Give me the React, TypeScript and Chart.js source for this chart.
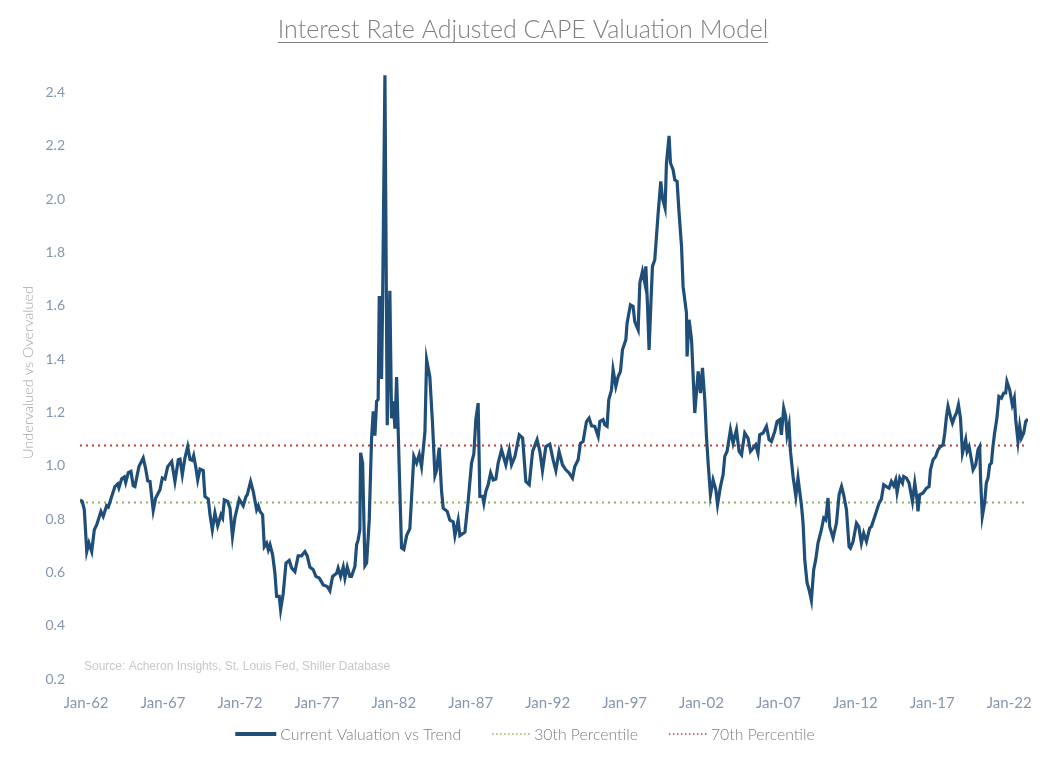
import React, { useEffect, useRef } from 'react';
import { Chart, registerables } from 'chart.js';

Chart.register(...registerables);

// ---- Data (decimal year, valuation ratio) ----
const dates: number[] = [
  1961.60, 1961.75, 1961.88, 1962.04, 1962.18, 1962.36, 1962.53, 1962.69, 1962.96, 1963.11,
  1963.33, 1963.44, 1963.66, 1963.87, 1964.05, 1964.13, 1964.31, 1964.48, 1964.57, 1964.74,
  1964.91, 1965.06, 1965.17, 1965.43, 1965.71, 1965.87, 1966.00, 1966.15, 1966.36, 1966.52,
  1966.80, 1966.95, 1967.12, 1967.30, 1967.56, 1967.77, 1967.99, 1968.10, 1968.25, 1968.42,
  1968.60, 1968.75, 1968.90, 1968.99, 1969.12, 1969.25, 1969.40, 1969.61, 1969.72, 1969.94,
  1970.05, 1970.20, 1970.37, 1970.55, 1970.76, 1970.87, 1970.98, 1971.20, 1971.35, 1971.51,
  1971.67, 1971.95, 1972.21, 1972.39, 1972.47, 1972.69, 1972.86, 1973.08, 1973.19, 1973.30,
  1973.47, 1973.58, 1973.73, 1973.84, 1973.95, 1974.12, 1974.27, 1974.38, 1974.55, 1974.64,
  1974.81, 1974.99, 1975.20, 1975.36, 1975.57, 1975.78, 1976.00, 1976.22, 1976.37, 1976.54,
  1976.76, 1976.93, 1977.15, 1977.41, 1977.67, 1977.84, 1978.02, 1978.28, 1978.38, 1978.54,
  1978.71, 1978.82, 1978.97, 1979.14, 1979.25, 1979.47, 1979.58, 1979.68, 1979.79, 1979.84,
  1979.97, 1980.12, 1980.23, 1980.40, 1980.55, 1980.66, 1980.77, 1980.88, 1980.98, 1981.05,
  1981.14, 1981.20, 1981.27, 1981.42, 1981.57, 1981.74, 1981.85, 1981.96, 1982.07, 1982.18,
  1982.28, 1982.39, 1982.50, 1982.65, 1982.83, 1983.04, 1983.30, 1983.48, 1983.65, 1983.80,
  1984.02, 1984.13, 1984.34, 1984.52, 1984.67, 1984.78, 1984.95, 1985.10, 1985.21, 1985.47,
  1985.64, 1985.86, 1985.97, 1986.18, 1986.29, 1986.62, 1986.83, 1987.05, 1987.20, 1987.33,
  1987.48, 1987.59, 1987.77, 1987.85, 1987.98, 1988.13, 1988.29, 1988.46, 1988.63, 1988.78,
  1989.00, 1989.28, 1989.50, 1989.65, 1989.87, 1990.15, 1990.37, 1990.58, 1990.80, 1991.02,
  1991.31, 1991.49, 1991.66, 1991.88, 1992.14, 1992.35, 1992.53, 1992.74, 1992.96, 1993.18,
  1993.39, 1993.61, 1993.76, 1993.98, 1994.13, 1994.30, 1994.52, 1994.69, 1994.85, 1995.06,
  1995.28, 1995.39, 1995.60, 1995.71, 1995.86, 1995.97, 1996.15, 1996.25, 1996.43, 1996.58,
  1996.73, 1996.86, 1997.08, 1997.16, 1997.38, 1997.55, 1997.66, 1997.88, 1997.99, 1998.16,
  1998.31, 1998.38, 1998.49, 1998.59, 1998.70, 1998.81, 1998.96, 1999.18, 1999.35, 1999.46,
  1999.63, 1999.72, 1999.89, 1999.98, 2000.15, 2000.26, 2000.41, 2000.54, 2000.70, 2000.80,
  2001.02, 2001.06, 2001.19, 2001.35, 2001.56, 2001.78, 2001.93, 2002.06, 2002.21, 2002.32,
  2002.43, 2002.58, 2002.75, 2002.93, 2003.04, 2003.23, 2003.40, 2003.51, 2003.66, 2003.88,
  2004.05, 2004.27, 2004.44, 2004.60, 2004.81, 2005.02, 2005.18, 2005.35, 2005.52, 2005.67,
  2005.78, 2006.00, 2006.22, 2006.39, 2006.54, 2006.76, 2006.91, 2007.08, 2007.19, 2007.34,
  2007.47, 2007.56, 2007.69, 2007.78, 2007.95, 2008.13, 2008.27, 2008.49, 2008.60, 2008.71,
  2008.86, 2008.99, 2009.14, 2009.29, 2009.42, 2009.57, 2009.79, 2009.94, 2010.07, 2010.22,
  2010.33, 2010.55, 2010.77, 2010.94, 2011.10, 2011.24, 2011.42, 2011.59, 2011.68, 2011.85,
  2012.07, 2012.22, 2012.39, 2012.54, 2012.72, 2012.93, 2013.04, 2013.26, 2013.54, 2013.69,
  2013.84, 2014.02, 2014.19, 2014.34, 2014.49, 2014.62, 2014.71, 2014.88, 2015.06, 2015.14,
  2015.32, 2015.49, 2015.71, 2015.86, 2016.01, 2016.07, 2016.18, 2016.40, 2016.62, 2016.79,
  2016.88, 2017.05, 2017.22, 2017.37, 2017.53, 2017.70, 2017.81, 2017.92, 2018.02, 2018.18,
  2018.31, 2018.46, 2018.57, 2018.70, 2018.83, 2018.96, 2019.04, 2019.17, 2019.26, 2019.39,
  2019.54, 2019.65, 2019.82, 2019.97, 2020.08, 2020.14, 2020.25, 2020.40, 2020.51, 2020.62,
  2020.73, 2020.84, 2020.94, 2021.05, 2021.20, 2021.33, 2021.49, 2021.64, 2021.77, 2021.85,
  2022.03, 2022.20, 2022.33, 2022.42, 2022.57, 2022.68, 2022.79, 2022.94, 2023.07, 2023.22,
];

const valuation: number[] = [
  0.872, 0.866, 0.835, 0.678, 0.710, 0.678, 0.760, 0.779, 0.829, 0.810,
  0.850, 0.845, 0.885, 0.922, 0.932, 0.917, 0.951, 0.958, 0.937, 0.974,
  0.979, 0.925, 0.922, 0.997, 1.029, 0.988, 0.944, 0.941, 0.832, 0.879,
  0.910, 0.954, 0.950, 0.997, 1.016, 0.941, 1.023, 1.025, 0.966, 1.029,
  1.072, 1.023, 1.020, 1.038, 0.997, 0.947, 0.988, 0.982, 0.885, 0.875,
  0.816, 0.760, 0.823, 0.775, 0.816, 0.804, 0.872, 0.866, 0.841, 0.735,
  0.805, 0.875, 0.850, 0.885, 0.891, 0.941, 0.904, 0.835, 0.850, 0.829,
  0.816, 0.697, 0.710, 0.685, 0.704, 0.666, 0.597, 0.510, 0.510, 0.460,
  0.522, 0.635, 0.645, 0.616, 0.603, 0.662, 0.662, 0.678, 0.662, 0.620,
  0.610, 0.585, 0.579, 0.553, 0.547, 0.531, 0.585, 0.597, 0.616, 0.585,
  0.620, 0.579, 0.620, 0.585, 0.585, 0.622, 0.704, 0.722, 0.760, 1.049,
  1.010, 0.625, 0.635, 0.797, 1.100, 1.204, 1.113, 1.242, 1.249, 1.631,
  1.631, 1.326, 1.618, 2.465, 1.152, 1.657, 1.178, 1.242, 1.139, 1.333,
  1.139, 0.906, 0.692, 0.686, 0.738, 0.764, 1.035, 1.010, 1.042, 0.997,
  1.126, 1.398, 1.333, 1.152, 0.964, 0.984, 1.068, 0.906, 0.841, 0.829,
  0.796, 0.790, 0.738, 0.796, 0.738, 0.751, 0.867, 1.010, 1.045, 1.173,
  1.235, 0.885, 0.885, 0.860, 0.904, 0.929, 0.973, 0.947, 0.950, 1.010,
  1.060, 1.004, 1.060, 1.004, 1.035, 1.116, 1.104, 0.941, 0.929, 1.054,
  1.098, 1.054, 0.982, 1.072, 1.081, 1.023, 0.982, 1.054, 1.004, 0.985,
  0.973, 0.954, 0.997, 1.023, 1.085, 1.091, 1.166, 1.179, 1.150, 1.148,
  1.110, 1.166, 1.173, 1.154, 1.148, 1.248, 1.285, 1.360, 1.298, 1.335,
  1.354, 1.435, 1.473, 1.535, 1.604, 1.598, 1.541, 1.510, 1.686, 1.729,
  1.686, 1.748, 1.598, 1.435, 1.598, 1.748, 1.773, 1.948, 2.067, 2.004,
  1.967, 2.136, 2.238, 2.136, 2.111, 2.073, 2.067, 1.948, 1.823, 1.673,
  1.573, 1.410, 1.548, 1.473, 1.198, 1.354, 1.273, 1.367, 1.248, 1.110,
  1.010, 0.891, 0.947, 0.910, 0.854, 0.922, 0.966, 1.035, 1.054, 1.135,
  1.085, 1.135, 1.054, 1.041, 1.123, 1.104, 1.054, 1.066, 1.079, 1.047,
  1.116, 1.123, 1.148, 1.098, 1.091, 1.129, 1.166, 1.173, 1.116, 1.216,
  1.185, 1.116, 1.154, 1.054, 0.960, 0.885, 0.954, 0.854, 0.785, 0.647,
  0.560, 0.535, 0.495, 0.610, 0.647, 0.710, 0.760, 0.804, 0.797, 0.879,
  0.772, 0.729, 0.785, 0.891, 0.922, 0.891, 0.835, 0.697, 0.691, 0.716,
  0.785, 0.772, 0.710, 0.747, 0.716, 0.766, 0.772, 0.810, 0.860, 0.875,
  0.929, 0.922, 0.916, 0.941, 0.925, 0.947, 0.900, 0.954, 0.935, 0.960,
  0.954, 0.935, 0.866, 0.935, 0.872, 0.829, 0.891, 0.898, 0.916, 0.922,
  0.985, 1.023, 1.035, 1.060, 1.072, 1.079, 1.123, 1.185, 1.223, 1.185,
  1.160, 1.185, 1.198, 1.229, 1.179, 1.047, 1.066, 1.098, 1.054, 1.072,
  1.023, 0.985, 1.004, 1.060, 1.072, 0.947, 0.810, 0.860, 0.935, 0.954,
  1.004, 1.010, 1.072, 1.123, 1.179, 1.260, 1.254, 1.273, 1.273, 1.316,
  1.285, 1.229, 1.254, 1.173, 1.091, 1.148, 1.104, 1.123, 1.166, 1.175,
];

const percentile30 = 0.862;
const percentile70 = 1.076;

const xTickYears: number[] = [1962, 1967, 1972, 1977, 1982, 1987, 1992, 1997, 2002, 2007, 2012, 2017, 2022];
const xTickLabels: string[] = ['Jan-62', 'Jan-67', 'Jan-72', 'Jan-77', 'Jan-82', 'Jan-87', 'Jan-92', 'Jan-97', 'Jan-02', 'Jan-07', 'Jan-12', 'Jan-17', 'Jan-22'];
const yTicks: number[] = [0.2, 0.4, 0.6, 0.8, 1.0, 1.2, 1.4, 1.6, 1.8, 2.0, 2.2, 2.4];
const yMin = 0.2;
const yMax = 2.5;

const seriesNames: string[] = ['Current Valuation vs Trend', '30th Percentile', '70th Percentile'];
const titleText = 'Interest Rate Adjusted CAPE Valuation Model';
const yAxisTitle = 'Undervalued vs Overvalued';
const sourceText = 'Source: Acheron Insights, St. Louis Fed, Shiller Database';

const LINE_BLUE = '#1f4e79';
const DOT_GREEN = '#8fb35a';
const DOT_RED = '#cc3a3a';
const TICK_COLOR = '#8497b0';
const TEXT_GRAY = '#7f7f7f';

const overlayPlugin = {
  id: 'overlayText',
  afterDraw(chart: any) {
    const ctx = chart.ctx as CanvasRenderingContext2D;
    const W = chart.width;
    const area = chart.chartArea;
    ctx.save();

    // Title with underline
    ctx.font = '300 25px Lato';
    ctx.fillStyle = TEXT_GRAY;
    ctx.textAlign = 'center';
    ctx.textBaseline = 'middle';
    ctx.fillText(titleText, W / 2, 30);
    const tw = ctx.measureText(titleText).width;
    ctx.strokeStyle = TEXT_GRAY;
    ctx.lineWidth = 1;
    ctx.beginPath();
    ctx.moveTo(W / 2 - tw / 2, 42.5);
    ctx.lineTo(W / 2 + tw / 2, 42.5);
    ctx.stroke();

    // Source note
    ctx.font = '12px "Liberation Sans", Arial, sans-serif';
    ctx.fillStyle = '#c8c8c8';
    ctx.textAlign = 'left';
    ctx.fillText(sourceText, area.left + 4, 667);

    // Legend
    const ds = chart.data.datasets;
    const sampleW = [41, 38, 38];
    const sampleGap = 4;
    const itemGap = 31;
    ctx.font = '300 15.8px Lato';
    const widths = ds.map((d: any, i: number) => sampleW[i] + sampleGap + ctx.measureText(d.label).width);
    const total = widths.reduce((a: number, b: number) => a + b, 0) + itemGap * (ds.length - 1);
    let x = W / 2 - total / 2 + 2;
    const ly = 734;
    ds.forEach((d: any, i: number) => {
      ctx.save();
      ctx.strokeStyle = d.borderColor;
      if (i === 0) {
        ctx.lineWidth = 4;
        ctx.setLineDash([]);
      } else {
        ctx.lineWidth = 1.5;
        ctx.setLineDash([1.5, 2.5]);
      }
      ctx.beginPath();
      ctx.moveTo(x, ly);
      ctx.lineTo(x + sampleW[i], ly);
      ctx.stroke();
      ctx.restore();
      ctx.fillStyle = TEXT_GRAY;
      ctx.textAlign = 'left';
      ctx.textBaseline = 'middle';
      ctx.fillText(d.label, x + sampleW[i] + sampleGap, ly + 1);
      x += widths[i] + itemGap;
    });

    ctx.restore();
  },
};

export default function App() {
  const canvasRef = useRef<HTMLCanvasElement | null>(null);

  useEffect(() => {
    document.body.style.margin = '0';
    const canvas = canvasRef.current;
    if (!canvas) return;
    const xMin = dates[0];
    const xMax = dates[dates.length - 1];
    const mainData = dates.map((d, i) => ({ x: d, y: valuation[i] }));

    const chart = new Chart(canvas, {
      type: 'line',
      data: {
        datasets: [
          {
            label: seriesNames[0],
            data: mainData,
            borderColor: LINE_BLUE,
            borderWidth: 3.2,
            pointRadius: 0,
            tension: 0,
            order: 0,
          },
          {
            label: seriesNames[1],
            data: [{ x: xMin, y: percentile30 }, { x: xMax, y: percentile30 }],
            borderColor: DOT_GREEN,
            borderWidth: 2,
            borderDash: [2, 4],
            pointRadius: 0,
            order: 1,
          },
          {
            label: seriesNames[2],
            data: [{ x: xMin, y: percentile70 }, { x: xMax, y: percentile70 }],
            borderColor: DOT_RED,
            borderWidth: 2,
            borderDash: [2, 4],
            pointRadius: 0,
            order: 1,
          },
        ],
      },
      options: {
        responsive: false,
        animation: false,
        devicePixelRatio: 1,
        layout: { padding: { left: 0, right: 18, top: 66, bottom: 41 } },
        plugins: {
          legend: { display: false },
          title: { display: false },
          tooltip: { enabled: false },
        },
        scales: {
          x: {
            type: 'linear',
            min: xMin,
            max: xMax,
            grid: { display: false },
            border: { display: false },
            afterBuildTicks: (scale: any) => {
              scale.ticks = xTickYears.map((v) => ({ value: v }));
            },
            afterFit: (scale: any) => {
              scale.height = 40;
            },
            ticks: {
              autoSkip: false,
              maxRotation: 0,
              minRotation: 0,
              padding: 7,
              color: TICK_COLOR,
              font: { family: 'Lato', size: 15 },
              callback: (value: any) => {
                const idx = xTickYears.indexOf(Number(value));
                return idx >= 0 ? xTickLabels[idx] : '';
              },
            },
          },
          y: {
            type: 'linear',
            min: yMin,
            max: yMax,
            grid: { display: false },
            border: { display: false },
            afterBuildTicks: (scale: any) => {
              scale.ticks = yTicks.map((v) => ({ value: v }));
            },
            afterFit: (scale: any) => {
              scale.width = 80;
            },
            ticks: {
              padding: 7,
              color: TICK_COLOR,
              font: { family: 'Lato', size: 14 },
              callback: (value: any) => Number(value).toFixed(1),
            },
            title: {
              display: true,
              text: yAxisTitle,
              color: '#a6a6a6',
              font: { family: 'Lato', size: 14.5, weight: '300' },
              padding: { top: 20, bottom: 0 },
            },
          },
        },
      },
      plugins: [overlayPlugin],
    } as any);

    return () => {
      chart.destroy();
    };
  }, []);

  return (
    <div style={{ width: 1046, height: 760, background: '#ffffff' }}>
      <canvas ref={canvasRef} width={1046} height={760} style={{ display: 'block' }} />
    </div>
  );
}
